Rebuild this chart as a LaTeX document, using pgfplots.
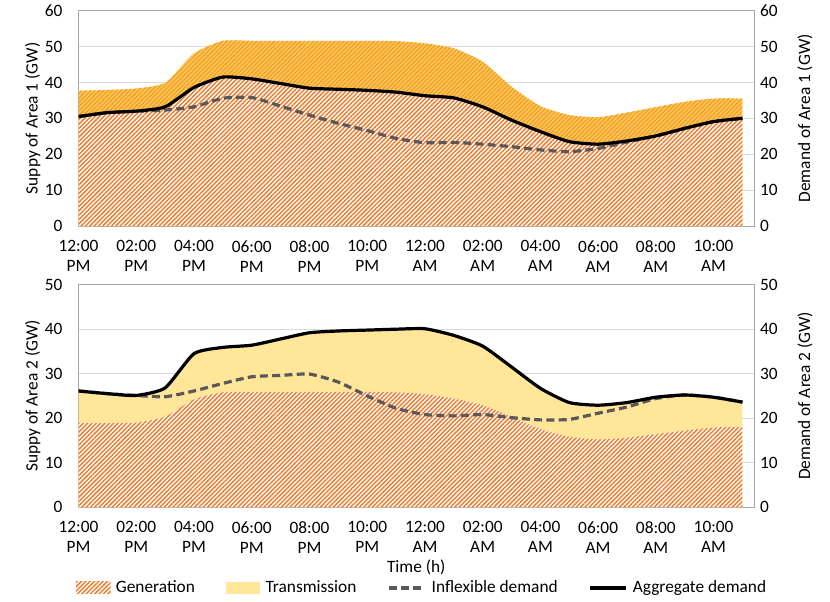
\documentclass[border=0pt]{standalone}
\usepackage{fontspec}
\setmainfont{Carlito}
\usepackage{pgfplots}
\pgfplotsset{compat=1.18}
\usepackage{pgfplotstable}
\usetikzlibrary{patterns.meta}

\definecolor{genorange}{HTML}{ED7D31}
\definecolor{expfill}{HTML}{FFCB5C}
\definecolor{expline}{HTML}{F2A02A}
\definecolor{transyellow}{HTML}{FFE699}
\definecolor{inflex}{HTML}{595959}
\definecolor{gridgray}{HTML}{D9D9D9}
\definecolor{framegray}{HTML}{A6A6A6}

% area 1: total supply, aggregate demand, inflexible demand
\pgfplotstableread{
h sup agg inf
0 37.7 30.5 30.5
1 37.9 31.6 31.6
2 38.3 32.0 32.0
3 39.9 33.2 32.3
4 48.1 38.6 33.2
5 51.6 41.5 35.6
6 51.6 41.0 35.8
7 51.6 39.7 33.4
8 51.6 38.4 30.9
9 51.6 38.1 28.6
10 51.6 37.8 26.6
11 51.5 37.3 24.4
12 50.9 36.3 23.2
13 49.5 35.7 23.3
14 45.8 33.2 22.8
15 38.8 29.5 22.1
16 33.4 26.3 21.2
17 30.9 23.5 20.7
18 30.3 22.8 21.6
19 31.6 23.7 23.4
20 33.1 25.1 25.1
21 34.6 27.2 27.2
22 35.5 29.1 29.1
23 35.5 30.0 30.0
}\areaone

% area 2: generation, aggregate demand, inflexible demand
\pgfplotstableread{
h gen agg inf
0 18.9 26.1 26.1
1 18.9 25.5 25.5
2 19.0 25.1 25.1
3 20.3 26.8 24.8
4 24.2 34.5 26.1
5 25.8 35.9 27.8
6 25.9 36.4 29.3
7 25.9 37.8 29.6
8 25.9 39.2 29.9
9 25.9 39.6 28.1
10 25.9 39.8 25.0
11 25.8 40.0 22.2
12 25.4 40.1 20.8
13 24.4 38.6 20.5
14 22.9 36.2 20.8
15 20.3 31.5 20.1
16 17.5 26.7 19.6
17 15.8 23.5 19.7
18 15.2 22.9 21.1
19 15.6 23.5 22.5
20 16.4 24.7 24.4
21 17.2 25.2 25.2
22 17.9 24.7 24.7
23 18.0 23.6 23.6
}\areatwo

\pgfplotsset{
  base/.style={
    scale only axis,
    width=506.6pt,
    xmin=0, xmax=23.4,
    xtick={0,2,...,22},
    xticklabels={12:00\\PM,02:00\\PM,04:00\\PM,06:00\\PM,08:00\\PM,10:00\\PM,
                 12:00\\AM,02:00\\AM,04:00\\AM,06:00\\AM,08:00\\AM,10:00\\AM},
    xticklabel style={align=center, yshift=-6.5pt},
    major tick length=0,
    axis line style={draw=framegray, line width=0.75pt},
    /pgf/number format/assume math mode=true,
    yticklabel style={xshift=-7.5pt},
  },
  leftax/.style={base, ymajorgrids, grid style={draw=gridgray, line width=0.75pt}},
  rightax/.style={base, hide x axis, axis y line*=right,
    yticklabel style={xshift=7.5pt},
    ylabel style={at={(axis description cs:1.0755,0.5)}, anchor=center}},
  smooth line/.style={smooth, tension=0.35},
  hatch/.style={draw=none, pattern={Lines[angle=45,distance=2.3pt,line width=1.1pt]}},
  legbox/.style={legend image code/.code={\path[##1] (0pt,-4.5pt) rectangle (26pt,4.5pt);}},
  legline/.style={legend image code/.code={\draw[##1] (0pt,0pt) -- (27pt,0pt);}},
}

\begin{document}
\fontsize{13}{15}\selectfont
\begin{tikzpicture}
\useasboundingbox (0,0) rectangle (622.5pt,-451.5pt);

% ---- Area 1 ----
\begin{axis}[leftax, at={(58.9pt,-169.5pt)}, anchor=south west, height=161.5pt,
  ymin=0, ymax=60, ytick={0,10,...,60},
  ylabel={Suppy of Area 1 (GW)},
  ylabel style={at={(axis description cs:-0.068,0.5)}, anchor=center}]
\addplot[smooth line, draw=none, fill=expfill] table[x=h, y=sup] {\areaone} \closedcycle;
\addplot[smooth line, hatch, pattern color=expline] table[x=h, y=sup] {\areaone} \closedcycle;
\addplot[smooth line, draw=none, fill=white] table[x=h, y=agg] {\areaone} \closedcycle;
\addplot[smooth line, hatch, pattern color=genorange] table[x=h, y=agg] {\areaone} \closedcycle;
\addplot[smooth line, inflex, line width=2.4pt, dash pattern=on 6pt off 3.2pt] table[x=h, y=inf] {\areaone};
\addplot[smooth line, black, line width=2.4pt] table[x=h, y=agg] {\areaone};
\end{axis}
\begin{axis}[rightax, at={(58.9pt,-169.5pt)}, anchor=south west, height=161.5pt,
  ymin=0, ymax=60, ytick={0,10,...,60},
  ylabel={Demand of Area 1 (GW)}]
\end{axis}

% ---- Area 2 ----
\begin{axis}[leftax, at={(58.9pt,-380.25pt)}, anchor=south west, height=166.7pt,
  ymin=0, ymax=50, ytick={0,10,...,50},
  ylabel={Suppy of Area 2 (GW)},
  ylabel style={at={(axis description cs:-0.068,0.5)}, anchor=center},
  xlabel={Time (h)},
  xlabel style={at={(axis description cs:0.5,-0.27)}, anchor=center},
  legend columns=4,
  legend style={at={(axis description cs:0.509,-0.364)}, anchor=center,
    draw=none, fill=none, inner sep=0pt,
    /tikz/every odd column/.append style={column sep=2pt},
    /tikz/every even column/.append style={column sep=21pt}}]
\addplot[forget plot, smooth line, draw=none, fill=transyellow] table[x=h, y=agg] {\areatwo} \closedcycle;
\addplot[forget plot, smooth line, draw=none, fill=white] table[x=h, y=gen] {\areatwo} \closedcycle;
\addplot[forget plot, smooth line, hatch, pattern color=genorange] table[x=h, y=gen] {\areatwo} \closedcycle;
\addplot[forget plot, smooth line, inflex, line width=2.4pt, dash pattern=on 6pt off 3.2pt] table[x=h, y=inf] {\areatwo};
\addplot[forget plot, smooth line, black, line width=2.4pt] table[x=h, y=agg] {\areatwo};

\addlegendimage{legbox, hatch, pattern color=genorange}
\addlegendentry{Generation}
\addlegendimage{legbox, draw=none, fill=transyellow}
\addlegendentry{Transmission}
\addlegendimage{legline, inflex, line width=2.4pt, dash pattern=on 6pt off 3.2pt}
\addlegendentry{Inflexible demand}
\addlegendimage{legline, black, line width=2.4pt}
\addlegendentry{Aggregate demand}
\end{axis}
\begin{axis}[rightax, at={(58.9pt,-380.25pt)}, anchor=south west, height=166.7pt,
  ymin=0, ymax=50, ytick={0,10,...,50},
  ylabel={Demand of Area 2 (GW)}]
\end{axis}
\end{tikzpicture}
\end{document}
